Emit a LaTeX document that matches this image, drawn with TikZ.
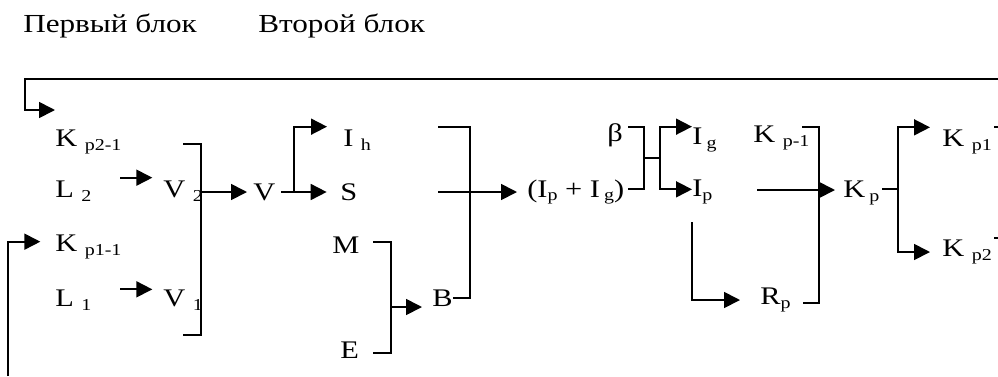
\documentclass[tikz,border=0pt]{standalone}
\usepackage{fontspec}
\setmainfont{Liberation Serif}[FakeStretch=1.2]
\usetikzlibrary{arrows.meta}
\newcommand\lo[1]{\raisebox{-0.3ex}{\fontsize{12.5}{13}\selectfont #1}}

\begin{document}
\begin{tikzpicture}[x=0.75pt, y=-0.75pt,
    lab/.style={inner sep=0pt, anchor=west, font=\fontsize{19}{22}\selectfont},
    head/.style={inner sep=0pt, anchor=west, font=\fontsize{19.5}{23}\selectfont},
    wire/.style={line width=1.3pt},
    arrow/.style={wire, -{Triangle[length=12pt, width=12pt]}}
  ]
  \useasboundingbox (0,0) rectangle (998,376);
  \node[head] (first) at (23,26) {Первый блок};
  \node[head] (second) at (258,26) {Второй блок};

  % first block
  \node[lab] (kpa) at (55,142) {K \lo{p2-1}};
  \node[lab] (ltwo) at (55,191) {L \lo{2}};
  \node[lab] (kpb) at (55,247) {K \lo{p1-1}};
  \node[lab] (lone) at (55,300) {L \lo{1}};
  \node[lab] (vtwo) at (163,191) {V \lo{2}};
  \node[lab] (vone) at (163,300) {V \lo{1}};
  \node[lab] (v) at (253,192) {V};
  \node[lab] (ih) at (343,140) {I \lo{h}};
  \node[lab] (s) at (340,192) {S};
  \node[lab] (m) at (332,245) {M};
  \node[lab] (e) at (340,350) {E};
  \node[lab] (b) at (432,298) {B};

  % second block
  \node[lab] (sum) at (527,192) {(I\lo{p} + I\,\lo{g})};
  \node[lab] (beta) at (607,135) {β};
  \node[lab] (ig) at (692,140) {I\,\lo{g}};
  \node[lab] (ip) at (692,192) {I\lo{p}};
  \node[lab] (kpm) at (753,138) {K \lo{p-1}};
  \node[lab] (rp) at (760,300) {R\lo{p}};
  \node[lab] (kp) at (843,193) {K\,\lo{p}};
  \node[lab] (kpone) at (942,142) {K \lo{p1}};
  \node[lab] (kptwo) at (942,252) {K \lo{p2}};

  \coordinate (fbr) at (998,79);
  \coordinate (fbl) at (25,79);
  \coordinate (fbb) at (8,376);
  \coordinate (vtop) at (183,144);
  \coordinate (vj) at (201,192);
  \coordinate (vbot) at (183,335);
  \coordinate (vs) at (294,192);
  \coordinate (bbtop) at (438,127);
  \coordinate (bbj) at (470,192);
  \coordinate (sout) at (438,192);
  \coordinate (mtop) at (373,242);
  \coordinate (mej) at (391,307);
  \coordinate (ebot) at (373,353);
  \coordinate (btop) at (628,127);
  \coordinate (sj) at (644,158);
  \coordinate (sbot) at (628,189);
  \coordinate (ij) at (660,158);
  \coordinate (ipd) at (692,222);
  \coordinate (ipout) at (757,190);
  \coordinate (ktop) at (802,127);
  \coordinate (kj) at (819,190);
  \coordinate (kbot) at (803,303);
  \coordinate (kpj) at (898,189);
  \coordinate (outa) at (998,127);
  \coordinate (outb) at (998,238);

  \draw[arrow] (fbr) -- (fbl) |- ([yshift=24pt]kpa.west);
  \draw[arrow] (fbb) |- ([shift={(-11pt,4pt)}]kpb.west);
  \draw[arrow] ([shift={(-32pt,10pt)}]vtwo.west) -- ([shift={(-8pt,10pt)}]vtwo.west);
  \draw[arrow] ([shift={(-32pt,8pt)}]vone.west) -- ([shift={(-8pt,8pt)}]vone.west);
  \draw[wire] (vtop) -| (vj) |- (vbot);
  \draw[arrow] (vj) -- ([xshift=-4.5pt]v.west);
  \draw[arrow, shorten <=4.5pt] (v.east) -- ([xshift=-10pt]s.west);
  \draw[arrow] (vs) |- ([shift={(-12pt,10pt)}]ih.west);
  \draw[wire] (bbtop) -| (bbj) |- (b.east);
  \draw[arrow] (sout) -- ([xshift=-7.5pt]sum.west);
  \draw[wire] (mtop) -| (mej) |- (ebot);
  \draw[arrow] (mej) -- ([xshift=-7.5pt]b.west |- mej);
  \draw[wire] (btop) -| (sj) |- (sbot);
  \draw[wire] (sj) -- (ij);
  \draw[arrow] (ij) |- ([yshift=10pt]ig.west);
  \draw[arrow] (ij) |- ([yshift=2pt]ip.west);
  \draw[arrow] (ipd) |- ([xshift=-15pt]rp.west);
  \draw[arrow] (ipout) -- ([xshift=-6pt]kp.west |- ipout);
  \draw[wire] (ktop) -| (kj) |- (kbot);
  \draw[wire, shorten <=2pt] (kp.east |- kpj) -- (kpj);
  \draw[arrow] (kpj) |- ([shift={(-9pt,11pt)}]kpone.west);
  \draw[arrow] (kpj) |- ([xshift=-9pt]kptwo.west);
  \draw[wire] (outa) -- ++(-4,0);
  \draw[wire] (outb) -- ++(-4,0);
\end{tikzpicture}
\end{document}
